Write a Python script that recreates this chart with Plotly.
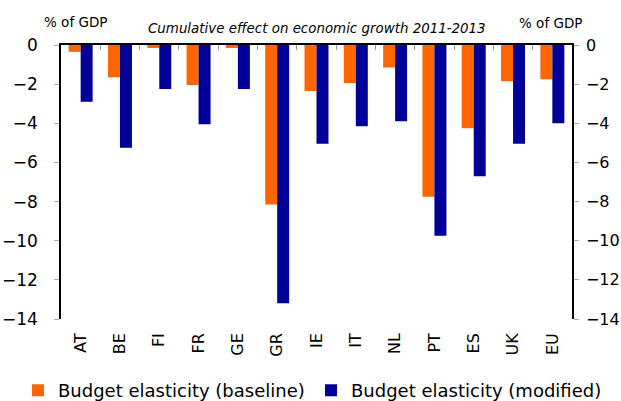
import plotly.graph_objects as go

categories = ["AT", "BE", "FI", "FR", "GE", "GR", "IE", "IT", "NL", "PT", "ES", "UK", "EU"]
baseline = [-0.35, -1.65, -0.15, -2.05, -0.15, -8.15, -2.35, -1.95, -1.15, -7.75, -4.25, -1.85, -1.75]
modified = [-2.9, -5.25, -2.25, -4.05, -2.25, -13.2, -5.05, -4.15, -3.9, -9.75, -6.7, -5.05, -4.0]
y_ticks = [0, -2, -4, -6, -8, -10, -12, -14]

FONT = "DejaVu Sans"
ORANGE = "#FF6600"
BLUE = "#000099"

fig = go.Figure()
fig.add_trace(go.Bar(x=categories, y=baseline, name="Budget elasticity (baseline)",
                     marker=dict(color=ORANGE, line=dict(width=0)), legend="legend"))
fig.add_trace(go.Bar(x=categories, y=modified, name="Budget elasticity (modified)",
                     marker=dict(color=BLUE, line=dict(width=0)), legend="legend2"))
# invisible helper trace to render the top category axis and right value axis
fig.add_trace(go.Bar(x=categories, y=modified, xaxis="x2", yaxis="y2", showlegend=False,
                     opacity=0, hoverinfo="skip"))

legend_common = dict(orientation="h", xref="container", yref="container", xanchor="left",
                     yanchor="middle", y=0.026, font=dict(size=18, family=FONT),
                     itemwidth=30, borderwidth=0, bgcolor="rgba(0,0,0,0)")

fig.update_layout(
    width=621, height=401,
    margin=dict(l=61, r=49, t=45, b=82, autoexpand=False),
    paper_bgcolor="white", plot_bgcolor="white",
    font=dict(family=FONT, color="black"),
    barmode="group", bargap=0.39, bargroupgap=0,
    showlegend=True,
    legend=dict(x=18 / 621, **legend_common),
    legend2=dict(x=311 / 621, **legend_common),
    xaxis=dict(type="category", showline=False, ticks="", tickangle=-90,
               tickfont=dict(size=16), showgrid=False, zeroline=False, ticklabelstandoff=10),
    xaxis2=dict(type="category", overlaying="x", matches="x", side="top", anchor="y",
                showline=True, linecolor="black", linewidth=1.5,
                ticks="inside", tickson="boundaries", ticklen=5, tickcolor="#999999",
                showticklabels=False, showgrid=False, zeroline=False),
    yaxis=dict(range=[-14, 0], tickvals=y_ticks, showline=True, linecolor="black", linewidth=1.5,
               ticks="outside", ticklen=5, tickcolor="#aaaaaa", tickfont=dict(size=17),
               showgrid=False, zeroline=False, ticklabelstandoff=13),
    yaxis2=dict(range=[-14, 0], tickvals=y_ticks, overlaying="y", matches="y", side="right",
                anchor="x", showline=True, linecolor="black", linewidth=1.5,
                ticks="outside", ticklen=5, tickcolor="#aaaaaa", tickfont=dict(size=16),
                showgrid=False, zeroline=False, ticklabelstandoff=4),
    annotations=[
        dict(text="<i>Cumulative effect on economic growth 2011-2013</i>", xref="paper", yref="paper",
             x=0.5, y=1.0, xanchor="center", yanchor="middle", yshift=17, showarrow=False,
             font=dict(size=13.4, family=FONT)),
        dict(text="% of GDP", xref="paper", yref="paper", x=(75 - 61) / 511, y=1.0, xanchor="center",
             yanchor="middle", yshift=23, showarrow=False, font=dict(size=13.5, family=FONT)),
        dict(text="% of GDP", xref="paper", yref="paper", x=(550 - 61) / 511, y=1.0, xanchor="center",
             yanchor="middle", yshift=22, showarrow=False, font=dict(size=13.5, family=FONT)),
    ],
)

fig.write_html("out.html")
